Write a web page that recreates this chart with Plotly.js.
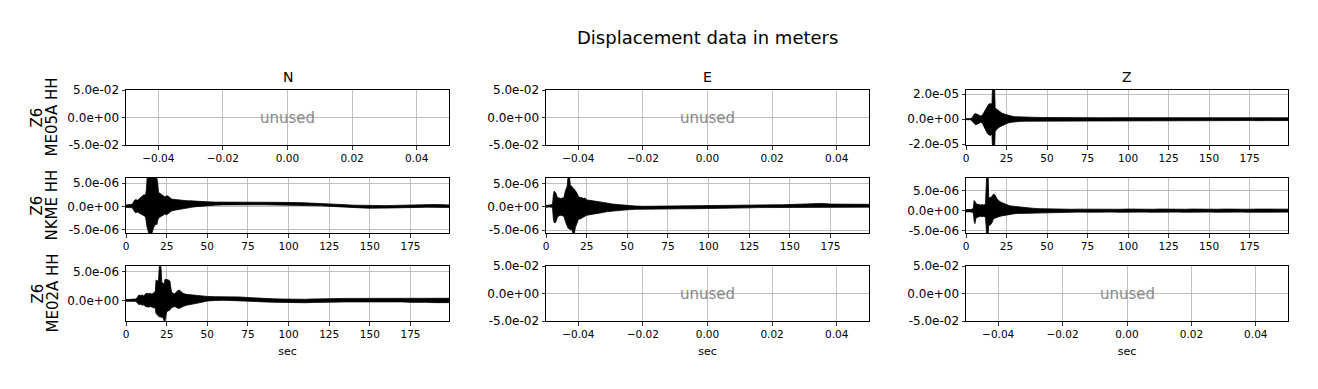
<!DOCTYPE html>
<html>
<head>
<meta charset="utf-8">
<script src="https://cdn.plot.ly/plotly-3.0.1.min.js"></script>
<style>html,body{margin:0;padding:0;background:#fff;}#chart{width:1318px;height:389px;}</style>
</head>
<body>
<div id="chart"></div>
<script>
// ---------------- data (amplitudes in micrometres, i.e. x1e-6 m) ----------------
var columnTitles = ["N", "E", "Z"];
var stationNames = ["ME05A HH", "NKME HH", "ME02A HH"];
var networkName = "Z6";
var unusedXTickVals = [-0.04, -0.02, 0, 0.02, 0.04];
var unusedXTickText = ["\u22120.04", "\u22120.02", "0.00", "0.02", "0.04"];
var unusedYTickVals = [-0.05, 0, 0.05];
var unusedYTickText = ["-5.0e-02", "0.0e+00", "5.0e-02"];
var secTickVals = [0, 25, 50, 75, 100, 125, 150, 175];
var secTickText = ["0", "25", "50", "75", "100", "125", "150", "175"];

// Z component, ME05A
var tZ_ME05A = [0,3,4,5,6,7,8,9,10,11,12,13,14,15,16,16.3,17.7,18,19,20,21,22,24,26,28,30,33,36,40,45,50,55,60,65,70,75,80,85,90,95,100,105,110,115,120,125,130,135,140,145,150,155,160,165,170,175,180,185,190,195,198.7];
var upZ_ME05A = [0.4,0.5,1.5,4.0,4.5,3.8,3.0,2.6,3.0,5.0,7.0,10.0,12.0,12.5,12.0,23.4,23.4,9.0,8.0,7.0,6.0,5.0,4.0,3.0,2.5,2.0,1.8,1.6,1.5,1.4,1.3,1.2,1.3,1.2,1.2,1.3,1.2,1.1,1.2,1.2,1.1,1.2,1.2,1.1,1.2,1.1,1.2,1.1,1.1,1.2,1.1,1.2,1.1,1.1,1.2,1.1,1.2,1.1,1.2,1.1,1.1];
var loZ_ME05A = [-0.4,-0.5,-1.5,-3.5,-4.5,-4.0,-3.2,-2.6,-3.0,-5.0,-8.0,-11.0,-12.5,-13.0,-12.0,-20.7,-20.7,-10.0,-8.0,-7.0,-6.0,-5.0,-4.0,-3.0,-2.5,-2.0,-1.8,-1.6,-1.5,-1.4,-1.3,-1.2,-1.2,-1.3,-1.2,-1.2,-1.1,-1.2,-1.2,-1.1,-1.2,-1.1,-1.2,-1.2,-1.1,-1.2,-1.1,-1.1,-1.2,-1.1,-1.1,-1.2,-1.1,-1.2,-1.1,-1.1,-1.2,-1.1,-1.1,-1.2,-1.1];

// N component, NKME
var tN_NKME = [0,2,4,5,6,7,8,9,10,11,12,12.5,13,14,15,16,17,18,19,19.5,20,21,22,23,24,25,26,27,28,30,32,34,36,38,40,43,46,50,55,60,65,70,75,80,85,90,95,100,105,110,115,120,125,130,135,140,145,150,155,160,165,170,175,180,185,190,195,198.7];
var upN_NKME = [0.3,0.4,0.5,1.2,1.5,1.3,1.6,1.8,2.2,2.5,2.4,3.5,6.1,6.1,6.1,6.1,6.1,6.1,6.1,5.0,3.0,2.8,2.5,2.3,2.0,2.3,2.2,1.9,1.6,1.5,1.4,1.3,1.3,1.2,1.2,1.1,1.05,
  0.98,0.93,0.9,0.92,0.89,0.92,0.89,0.89,0.89,0.92,0.87,0.82,0.77,0.72,0.67,0.57,0.47,0.37,0.27,0.22,0.17,0.12,0.17,0.22,0.27,0.37,0.32,0.37,0.42,0.37,0.32];
var loN_NKME = [-0.2,-0.2,-0.3,-1.0,-1.4,-1.2,-1.4,-1.6,-1.8,-2.0,-2.2,-3.0,-4.5,-5.7,-5.7,-5.7,-4.5,-3.9,-3.9,-3.0,-2.5,-2.3,-2.1,-1.8,-1.6,-1.8,-1.6,-1.3,-1.0,-0.8,-0.6,-0.5,-0.4,-0.3,-0.2,-0.05,0.08,
  0.2,0.28,0.33,0.38,0.35,0.38,0.35,0.35,0.35,0.38,0.33,0.28,0.23,0.18,0.13,0.03,-0.07,-0.17,-0.27,-0.32,-0.37,-0.42,-0.37,-0.32,-0.27,-0.17,-0.22,-0.17,-0.12,-0.17,-0.22];

// E component, NKME
var tE_NKME = [0,2,4,4.5,5,6,7,8,9,10,11,12,13,13.5,14.5,15,16,16.5,17.5,18,19,20,21,22,23,24,25,27,29,31,33,35,38,41,45,50,55,60,65,70,75,80,85,90,95,100,105,110,115,120,125,130,135,140,145,150,155,160,165,170,175,180,185,190,195,198.7];
var upE_NKME = [0.3,0.4,0.5,2.5,3.4,3.0,2.0,1.9,1.8,1.9,2.0,3.5,4.4,6.2,6.2,4.6,4.4,4.0,3.8,3.5,3.0,2.2,2.0,2.0,1.8,1.9,1.5,1.4,1.3,1.3,1.1,1.0,0.8,0.6,0.45,
  0.28,0.18,0.12,0.15,0.15,0.2,0.2,0.2,0.2,0.2,0.25,0.25,0.3,0.35,0.35,0.4,0.45,0.45,0.45,0.45,0.5,0.55,0.55,0.7,0.75,0.6,0.6,0.55,0.6,0.55,0.55];
var loE_NKME = [-0.1,0.0,-0.1,-2.5,-3.4,-3.3,-2.2,-1.9,-1.8,-1.9,-2.0,-3.2,-4.1,-4.5,-4.8,-4.8,-4.9,-5.6,-5.6,-4.5,-3.5,-2.6,-2.6,-2.4,-2.2,-2.0,-1.8,-1.6,-1.5,-1.5,-1.3,-1.2,-1.0,-0.9,-0.75,
  -0.62,-0.52,-0.5,-0.45,-0.45,-0.4,-0.4,-0.4,-0.4,-0.4,-0.35,-0.35,-0.3,-0.25,-0.25,-0.2,-0.15,-0.15,-0.15,-0.15,-0.1,-0.05,-0.05,-0.1,-0.05,0.0,0.0,-0.05,0.0,-0.05,-0.05];

// Z component, NKME
var tZ_NKME = [0,3,4.5,5,5.5,6,7,8,9,10,11,12,12.7,13.7,14,15,16,17,17.5,18,19,20,21,22,23,24,25,27,29,31,33,35,38,41,45,50,55,60,65,70,75,80,85,90,95,100,105,110,115,120,125,130,135,140,145,150,155,160,165,170,175,180,185,190,195,198.7];
var upZ_NKME = [0.3,0.3,0.5,2.5,2.3,1.8,1.6,1.5,1.4,1.5,1.4,1.6,8.05,8.05,3.3,3.2,3.5,4.1,4.0,3.8,3.0,2.5,2.2,2.0,1.8,1.6,1.4,1.2,1.1,1.0,0.9,0.8,0.7,0.6,0.5,
  0.42,0.38,0.4,0.35,0.38,0.35,0.4,0.35,0.38,0.35,0.4,0.35,0.38,0.35,0.4,0.35,0.38,0.35,0.4,0.35,0.38,0.35,0.4,0.35,0.38,0.35,0.4,0.35,0.38,0.35,0.38];
var loZ_NKME = [-0.3,-0.3,-0.5,-2.5,-3.2,-2.0,-1.6,-1.5,-1.4,-1.5,-1.4,-1.6,-5.5,-5.5,-3.7,-3.5,-3.0,-2.0,-1.9,-1.8,-1.7,-1.5,-1.4,-1.3,-1.2,-1.1,-1.0,-0.9,-0.8,-0.7,-0.6,-0.6,-0.5,-0.5,-0.45,
  -0.4,-0.38,-0.35,-0.4,-0.35,-0.38,-0.35,-0.4,-0.35,-0.38,-0.35,-0.4,-0.35,-0.38,-0.35,-0.4,-0.35,-0.38,-0.35,-0.4,-0.35,-0.38,-0.35,-0.4,-0.35,-0.38,-0.35,-0.4,-0.35,-0.38,-0.35];

// N component, ME02A
var tN_ME02A = [0,3,6,7,8,9,10,11,12,13,14,15,16,17,18,18.5,19,20,20.5,21.5,22,23,23.5,24,25,26,27,28,29,30,31,32,33,34,35,37,40,43,46,50,55,60,65,70,75,80,85,90,95,100,105,110,115,120,125,130,135,140,145,150,155,160,165,170,175,180,185,190,195,198.7];
var upN_ME02A = [0.2,0.2,0.3,0.6,1.0,0.9,1.0,0.8,1.2,1.3,1.2,1.3,1.1,1.4,1.6,3.6,3.4,3.5,6.0,6.0,3.2,3.0,2.8,3.7,3.7,3.6,3.4,1.5,1.3,1.2,1.5,1.8,1.8,1.6,1.3,1.1,1.0,0.9,0.8,
  0.74,0.7,0.7,0.68,0.65,0.55,0.45,0.4,0.35,0.3,0.25,0.25,0.25,0.3,0.35,0.4,0.4,0.4,0.4,0.4,0.4,0.42,0.4,0.38,0.4,0.48,0.43,0.48,0.43,0.48,0.43];
var loN_ME02A = [-0.1,-0.1,-0.1,-0.4,-0.7,-0.6,-0.8,-0.7,-1.0,-1.0,-1.1,-1.0,-1.0,-1.2,-1.3,-2.2,-2.4,-2.6,-2.8,-2.8,-2.8,-3.0,-3.5,-3.5,-1.9,-1.8,-1.6,-1.2,-1.1,-1.0,-1.2,-1.3,-1.3,-1.2,-1.0,-0.8,-0.6,-0.45,-0.3,
  -0.05,0.06,0.1,0.08,0.05,-0.05,-0.15,-0.2,-0.25,-0.3,-0.35,-0.35,-0.35,-0.3,-0.25,-0.2,-0.2,-0.2,-0.2,-0.2,-0.2,-0.18,-0.2,-0.22,-0.2,-0.28,-0.33,-0.28,-0.33,-0.28,-0.33];

// ---------------- panel definitions ----------------
var panels = [
  [null, null, {t: tZ_ME05A, up: upZ_ME05A, lo: loZ_ME05A, yr: [-2.07e-5, 2.34e-5], tv: [-2e-5, 0, 2e-5], tt: ["-2.0e-05", "0.0e+00", "2.0e-05"]}],
  [{t: tN_NKME, up: upN_NKME, lo: loN_NKME, yr: [-5.7e-6, 6.1e-6], tv: [-5e-6, 0, 5e-6], tt: ["-5.0e-06", "0.0e+00", "5.0e-06"]},
   {t: tE_NKME, up: upE_NKME, lo: loE_NKME, yr: [-5.6e-6, 6.2e-6], tv: [-5e-6, 0, 5e-6], tt: ["-5.0e-06", "0.0e+00", "5.0e-06"]},
   {t: tZ_NKME, up: upZ_NKME, lo: loZ_NKME, yr: [-5.5e-6, 8.05e-6], tv: [-5e-6, 0, 5e-6], tt: ["-5.0e-06", "0.0e+00", "5.0e-06"]}],
  [{t: tN_ME02A, up: upN_ME02A, lo: loN_ME02A, yr: [-3.5e-6, 6.0e-6], tv: [0, 5e-6], tt: ["0.0e+00", "5.0e-06"]}, null, null]
];

var W = 1318, H = 389;
var colPx = [[126, 449], [546, 869], [966, 1288]];
var rowPx = [[90, 145], [178, 233], [266, 321]];
var FONT = "DejaVu Sans, sans-serif";

var data = [];
var layout = {
  width: W, height: H,
  margin: {l: 0, r: 0, t: 0, b: 0},
  paper_bgcolor: "#fff", plot_bgcolor: "#fff",
  showlegend: false,
  font: {family: FONT, color: "#000", size: 11},
  annotations: []
};

function axisBase(sz) {
  return {
    showline: true, mirror: true, linecolor: "#000", linewidth: 1,
    ticks: "outside", ticklen: 3.5, tickwidth: 0.8, tickcolor: "#000",
    showgrid: true, gridcolor: "#b0b0b0", gridwidth: 0.8,
    zeroline: false, tickmode: "array",
    tickfont: {family: FONT, size: sz, color: "#000"},
    fixedrange: true
  };
}

var idx = 0;
for (var r = 0; r < 3; r++) {
  for (var c = 0; c < 3; c++) {
    idx++;
    var xn = idx === 1 ? "xaxis" : "xaxis" + idx;
    var yn = idx === 1 ? "yaxis" : "yaxis" + idx;
    var xr = idx === 1 ? "x" : "x" + idx;
    var yr = idx === 1 ? "y" : "y" + idx;
    var xa = axisBase(10.5), ya = axisBase(12);
    xa.domain = [colPx[c][0] / W, colPx[c][1] / W];
    ya.domain = [1 - rowPx[r][1] / H, 1 - rowPx[r][0] / H];
    xa.anchor = yr; ya.anchor = xr;
    var p = panels[r][c];
    if (p) {
      xa.range = [0, 198.7];
      xa.tickvals = secTickVals; xa.ticktext = secTickText;
      ya.range = p.yr; ya.tickvals = p.tv; ya.ticktext = p.tt;
      var xs = p.t.concat(p.t.slice().reverse());
      var ys = p.up.concat(p.lo.slice().reverse()).map(function (v) { return v * 1e-6; });
      data.push({
        type: "scatter", mode: "lines", x: xs, y: ys, xaxis: xr, yaxis: yr,
        fill: "toself", fillcolor: "#000", line: {color: "#000", width: 0.8}, hoverinfo: "skip"
      });
    } else {
      xa.range = [-0.05, 0.05];
      xa.tickvals = unusedXTickVals; xa.ticktext = unusedXTickText;
      ya.range = [-0.05, 0.05];
      ya.tickvals = unusedYTickVals; ya.ticktext = unusedYTickText;
      data.push({type: "scatter", mode: "lines", x: [0], y: [0], xaxis: xr, yaxis: yr, line: {color: "rgba(0,0,0,0)"}, hoverinfo: "skip"});
      layout.annotations.push({
        text: "unused", x: 0, y: 0, xref: xr, yref: yr, showarrow: false,
        xanchor: "center", yanchor: "middle",
        font: {family: FONT, size: 15, color: "#8a8a8a"}
      });
    }
    if (r === 2) {
      xa.title = {text: "sec", font: {family: FONT, size: 11, color: "#000"}, standoff: 8};
    }
    layout[xn] = xa; layout[yn] = ya;
  }
}

layout.annotations.push({
  text: "Displacement data in meters", xref: "paper", yref: "paper",
  x: 707 / W, y: 1 - 38 / H, xanchor: "center", yanchor: "middle", showarrow: false,
  font: {family: FONT, size: 18, color: "#000"}
});
for (var c2 = 0; c2 < 3; c2++) {
  layout.annotations.push({
    text: columnTitles[c2], xref: "paper", yref: "paper",
    x: (colPx[c2][0] + colPx[c2][1]) / 2 / W, y: 1 - 77 / H,
    xanchor: "center", yanchor: "middle", showarrow: false,
    font: {family: FONT, size: 14, color: "#000"}
  });
}
for (var r2 = 0; r2 < 3; r2++) {
  var yc = 1 - (rowPx[r2][0] + rowPx[r2][1]) / 2 / H;
  layout.annotations.push({
    text: networkName, xref: "paper", yref: "paper", x: 37 / W, y: yc,
    xanchor: "center", yanchor: "middle", textangle: -90, showarrow: false,
    font: {family: FONT, size: 15, color: "#000"}
  });
  layout.annotations.push({
    text: stationNames[r2], xref: "paper", yref: "paper", x: 52 / W, y: yc,
    xanchor: "center", yanchor: "middle", textangle: -90, showarrow: false,
    font: {family: FONT, size: 15, color: "#000"}
  });
}

Plotly.newPlot("chart", data, layout, {staticPlot: true, displayModeBar: false});
</script>
</body>
</html>
